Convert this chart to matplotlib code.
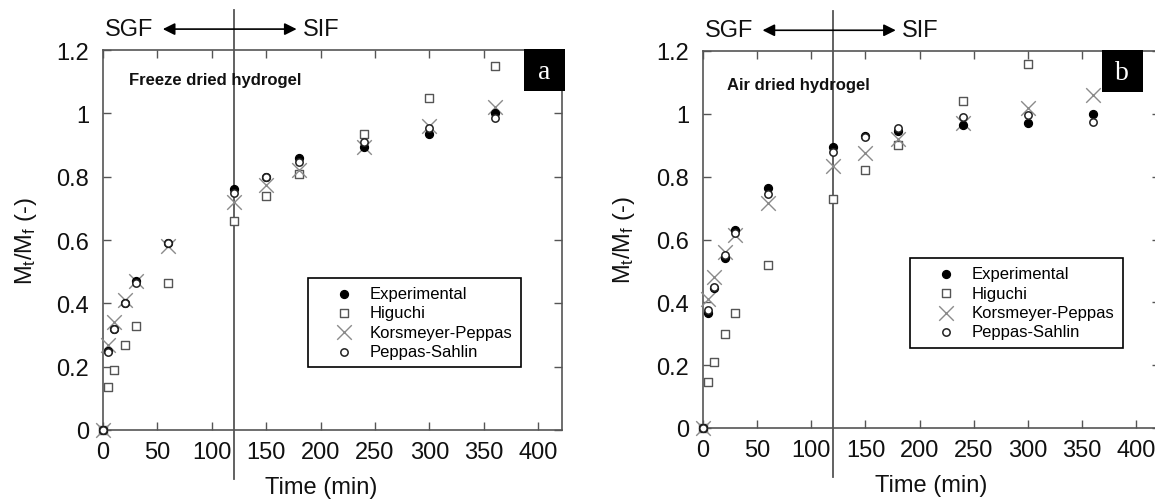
import matplotlib
matplotlib.use("Agg")
import matplotlib.pyplot as plt
import matplotlib.patches as mpatches
import numpy as np
from matplotlib.ticker import FuncFormatter

plt.rcParams['font.family'] = ['Liberation Sans', 'DejaVu Sans']
plt.rcParams['mathtext.fontset'] = 'custom'
plt.rcParams['mathtext.rm'] = 'Liberation Sans'
plt.rcParams['mathtext.it'] = 'Liberation Sans:italic'

time = [0, 5, 10, 20, 30, 60, 120, 150, 180, 240, 300, 360]

# Panel a: freeze dried hydrogel
a_exp = [0, 0.25, 0.32, 0.40, 0.47, 0.59, 0.76, 0.80, 0.86, 0.895, 0.935, 1.00]
a_hig = [0, 0.135, 0.19, 0.27, 0.33, 0.465, 0.66, 0.74, 0.81, 0.935, 1.05, 1.15]
a_kp = [0, 0.27, 0.34, 0.41, 0.47, 0.58, 0.72, 0.775, 0.82, 0.895, 0.96, 1.02]
a_ps = [0, 0.245, 0.32, 0.40, 0.465, 0.59, 0.75, 0.80, 0.845, 0.91, 0.955, 0.985]

# Panel b: air dried hydrogel
b_exp = [0, 0.365, 0.445, 0.54, 0.63, 0.765, 0.895, 0.93, 0.945, 0.965, 0.97, 1.00]
b_hig = [0, 0.145, 0.21, 0.30, 0.365, 0.52, 0.73, 0.82, 0.90, 1.04, 1.16, 1.27]
b_kp = [0, 0.41, 0.48, 0.56, 0.615, 0.715, 0.835, 0.875, 0.92, 0.97, 1.02, 1.06]
b_ps = [0, 0.375, 0.45, 0.55, 0.62, 0.745, 0.88, 0.925, 0.955, 0.99, 0.995, 0.975]

labels = ["Experimental", "Higuchi", "Korsmeyer-Peppas", "Peppas-Sahlin"]
xticks = [0, 50, 100, 150, 200, 250, 300, 350, 400]
yticks = [0, 0.2, 0.4, 0.6, 0.8, 1.0, 1.2]
XMAX, YMAX = 422, 1.2

W, H = 1155, 502
fig = plt.figure(figsize=(W / 100, H / 100), dpi=100)
# axes placed by pixel edges (left, right, bottom, top)
def px_axes(l, r, b, t):
    return fig.add_axes([l / W, 1 - b / H, (r - l) / W, (b - t) / H])

axA = px_axes(103, 562, 431, 51)
axB = px_axes(703, 1160, 429, 52)

spine_c = '#555555'

def visible(vals):
    v = np.array(vals, dtype=float)
    v[v > YMAX] = np.nan
    return v

def draw(ax, exp, hig, kp, ps, title, letter, boxx, legpos, ylab_x, xlab_x):
    t = np.array(time, dtype=float)
    ax.scatter(t, visible(hig), marker='s', s=26, facecolors='white', edgecolors='#555555',
               linewidths=1.0, zorder=3, label=labels[1], clip_on=False)
    ax.scatter(t, visible(kp), marker='x', s=110, color='#8a8a8a', linewidths=1.0,
               zorder=4, label=labels[2], clip_on=False)
    ax.scatter(t, visible(exp), marker='o', s=32, color='black', zorder=5,
               label=labels[0], clip_on=False)
    ax.scatter(t, visible(ps), marker='o', s=28, facecolors='white', edgecolors='#222222',
               linewidths=1.1, zorder=6, label=labels[3], clip_on=False)
    ax.set_xlim(0, XMAX)
    ax.set_ylim(0, YMAX)
    ax.set_xticks(xticks)
    ax.set_yticks(yticks)
    ax.yaxis.set_major_formatter(FuncFormatter(lambda v, p: '%g' % v))
    ax.tick_params(direction='in', length=6, width=1, colors=spine_c, labelcolor='#111111',
                   labelsize=17, top=True, right=True)
    ax.tick_params(axis='y', pad=10)
    ax.tick_params(axis='x', pad=8)
    for s in ax.spines.values():
        s.set_color(spine_c)
        s.set_linewidth(1.2)
    ax.set_xlabel('Time (min)', fontsize=17, color='#111111')
    ax.xaxis.set_label_coords(xlab_x, -0.122)
    ax.set_ylabel(r'M$_\mathrm{t}$/M$_\mathrm{f}$ (-)', fontsize=17, color='#111111')
    ax.yaxis.set_label_coords(ylab_x, 0.5)
    # vertical divider line at 120 min
    ax.axvline(120, ymin=-0.13, ymax=1.105, color='#555555', lw=1.3, clip_on=False, zorder=2)
    # SGF / SIF arrow
    tr = ax.get_xaxis_transform()
    ax.annotate('', xy=(55, 1.055), xytext=(178, 1.055), xycoords=tr, textcoords=tr,
                arrowprops=dict(arrowstyle='<|-|>', color='black', lw=1.2,
                                mutation_scale=18, shrinkA=0, shrinkB=0),
                annotation_clip=False)
    ax.text(46, 1.055, 'SGF', transform=tr, fontsize=17, ha='right', va='center', color='#111111')
    ax.text(184, 1.055, 'SIF', transform=tr, fontsize=17, ha='left', va='center', color='#111111')
    # title inside
    ax.text(title[1], title[2], title[0], transform=tr, fontsize=12, fontweight='bold',
            ha='left', va='center', color='#111111')
    # letter box
    rect = mpatches.Rectangle((boxx[0], 1.07), boxx[1] - boxx[0], 0.132,
                              facecolor='black', edgecolor='none', clip_on=False, zorder=10)
    ax.add_patch(rect)
    ax.text((boxx[0] + boxx[1]) / 2, 1.133, letter, color='white', fontsize=20,
            family=['Liberation Serif', 'DejaVu Serif'], ha='center', va='center', zorder=11)
    handles, labs = ax.get_legend_handles_labels()
    order = [labs.index(l) for l in labels]
    leg = ax.legend([handles[i] for i in order], [labs[i] for i in order],
                    loc='upper left', bbox_to_anchor=legpos, bbox_transform=ax.transData,
                    fontsize=12, frameon=True, fancybox=False, edgecolor='black',
                    framealpha=1, handletextpad=-0.1, borderpad=0.5, labelspacing=0.26,
                    handlelength=3.3, borderaxespad=0)
    leg.get_frame().set_linewidth(1.2)

draw(axA, a_exp, a_hig, a_kp, a_ps, ('Freeze dried hydrogel', 24, 0.922), 'a',
     (387, 424.5), (188.6, 0.481), -0.14, 0.476)
draw(axB, b_exp, b_hig, b_kp, b_ps, ('Air dried hydrogel', 22, 0.912), 'b',
     (368.5, 406), (191.5, 0.541), -0.145, 0.499)

fig.savefig('out.png', dpi=100)
